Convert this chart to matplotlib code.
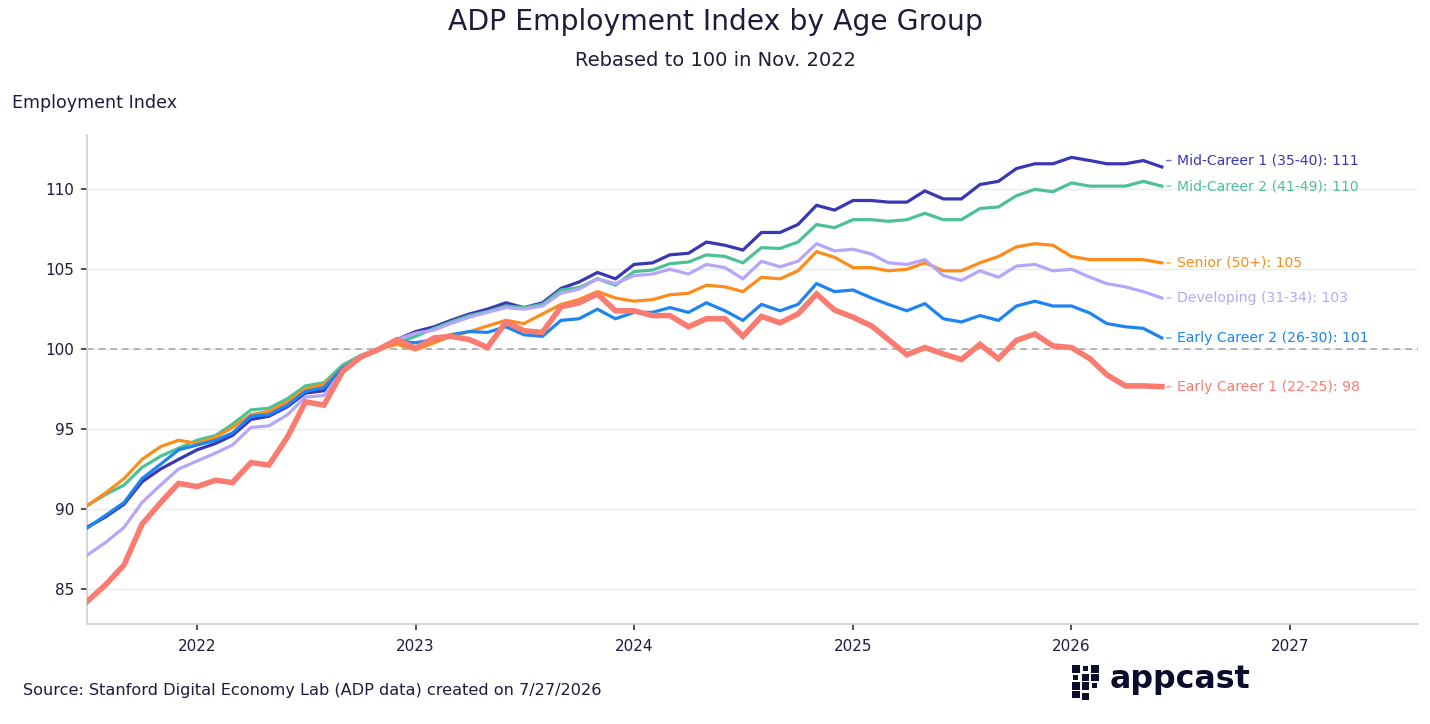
import matplotlib
matplotlib.use("Agg")
import matplotlib.pyplot as plt
import matplotlib.dates as mdates
from matplotlib.patches import Rectangle
import pandas as pd
import numpy as np

# ---------------- data ----------------
start_month = "2021-07-01"
n_months = 60

mid_career_1 = [88.85, 89.5, 90.3, 91.7, 92.5, 93.1,
                93.7, 94.1, 94.6, 95.6, 95.8, 96.4, 97.25, 97.4, 98.7, 99.5, 100.0, 100.6,
                101.1, 101.4, 101.8, 102.2, 102.5, 102.9, 102.6, 102.9, 103.8, 104.2, 104.8, 104.4,
                105.3, 105.4, 105.9, 106.0, 106.7, 106.5, 106.2, 107.3, 107.3, 107.8, 109.0, 108.7,
                109.3, 109.3, 109.2, 109.2, 109.9, 109.4, 109.4, 110.3, 110.5, 111.3, 111.6, 111.6,
                112.0, 111.8, 111.6, 111.6, 111.8, 111.4]
mid_career_2 = [90.2, 90.9, 91.5, 92.6, 93.3, 93.8,
                94.3, 94.6, 95.3, 96.2, 96.3, 96.9, 97.7, 97.9, 99.0, 99.6, 100.0, 100.4,
                100.8, 101.3, 101.7, 102.1, 102.35, 102.7, 102.6, 102.8, 103.7, 103.85, 104.4, 104.0,
                104.85, 104.95, 105.35, 105.45, 105.9, 105.8, 105.4, 106.35, 106.3, 106.7, 107.8, 107.6,
                108.1, 108.1, 108.0, 108.1, 108.5, 108.1, 108.1, 108.8, 108.9, 109.6, 110.0, 109.85,
                110.4, 110.2, 110.2, 110.2, 110.5, 110.2]
senior = [90.2, 91.0, 91.9, 93.1, 93.9, 94.3,
          94.1, 94.5, 95.1, 95.9, 96.1, 96.7, 97.5, 97.8, 98.8, 99.5, 100.0, 100.3,
          99.95, 100.4, 100.8, 101.1, 101.45, 101.8, 101.6, 102.2, 102.8, 103.1, 103.6, 103.2,
          103.0, 103.1, 103.4, 103.5, 104.0, 103.9, 103.6, 104.5, 104.4, 104.9, 106.1, 105.75,
          105.1, 105.1, 104.9, 105.0, 105.4, 104.9, 104.9, 105.4, 105.8, 106.4, 106.6, 106.5,
          105.8, 105.6, 105.6, 105.6, 105.6, 105.4]
developing = [87.1, 87.9, 88.85, 90.4, 91.5, 92.5,
              93.0, 93.5, 94.0, 95.1, 95.2, 95.9, 97.0, 97.1, 98.7, 99.5, 100.0, 100.6,
              101.0, 101.2, 101.6, 102.0, 102.3, 102.6, 102.5, 102.7, 103.5, 103.75, 104.4, 104.1,
              104.6, 104.7, 105.0, 104.7, 105.3, 105.1, 104.4, 105.5, 105.15, 105.5, 106.6, 106.15,
              106.25, 105.95, 105.4, 105.3, 105.6, 104.6, 104.3, 104.9, 104.5, 105.2, 105.3, 104.9,
              105.0, 104.5, 104.1, 103.9, 103.6, 103.2]
early_career_2 = [88.8, 89.6, 90.4, 91.9, 92.8, 93.7,
                  94.0, 94.3, 94.75, 95.8, 95.9, 96.5, 97.35, 97.6, 98.8, 99.5, 100.0, 100.5,
                  100.4, 100.6, 100.9, 101.1, 101.05, 101.4, 100.9, 100.8, 101.8, 101.9, 102.5, 101.9,
                  102.3, 102.3, 102.6, 102.3, 102.9, 102.4, 101.8, 102.8, 102.4, 102.8, 104.1, 103.6,
                  103.7, 103.2, 102.8, 102.4, 102.85, 101.9, 101.7, 102.1, 101.8, 102.7, 103.0, 102.7,
                  102.7, 102.25, 101.6, 101.4, 101.3, 100.7]
early_career_1 = [84.2, 85.25, 86.5, 89.05, 90.4, 91.6,
                  91.4, 91.8, 91.65, 92.9, 92.75, 94.5, 96.7, 96.5, 98.6, 99.5, 100.0, 100.6,
                  100.05, 100.7, 100.8, 100.6, 100.1, 101.7, 101.15, 101.05, 102.65, 102.9, 103.45, 102.4,
                  102.4, 102.1, 102.1, 101.4, 101.9, 101.9, 100.8, 102.05, 101.65, 102.2, 103.45, 102.45,
                  102.0, 101.45, 100.6, 99.65, 100.1, 99.7, 99.35, 100.3, 99.4, 100.55, 100.95, 100.2,
                  100.1, 99.4, 98.4, 97.7, 97.7, 97.65]

series_names = ["Mid-Career 1 (35-40)", "Mid-Career 2 (41-49)", "Senior (50+)",
                "Developing (31-34)", "Early Career 2 (26-30)", "Early Career 1 (22-25)"]
series_values = [mid_career_1, mid_career_2, senior, developing, early_career_2, early_career_1]
series_colors = ["#3a37b5", "#4cc196", "#fd8c1a", "#b6a6fb", "#1d84f2", "#fa7b70"]
series_widths = [2.3, 2.3, 2.3, 2.3, 2.3, 4.0]

y_ticks = [85, 90, 95, 100, 105, 110]
x_tick_years = [2022, 2023, 2024, 2025, 2026, 2027]

dates = pd.date_range(start_month, periods=n_months, freq="MS")

# ---------------- figure ----------------
TEXT = "#1d1d3b"
W, H = 1430, 724
fig = plt.figure(figsize=(W / 100, H / 100), dpi=100)
fig.patch.set_facecolor("white")
ax = fig.add_axes([87 / W, 100 / H, 1331 / W, 489 / H])

for vals, col, lw in zip(series_values, series_colors, series_widths):
    ax.plot(dates, vals, color=col, lw=lw, solid_joinstyle="miter", zorder=3)

ax.axhline(100, color="#a9a9a9", lw=1.2, ls=(0, (4, 3)), zorder=2)

ax.set_ylim(82.8, 113.4)
ax.set_xlim(pd.Timestamp("2021-07-01"), pd.Timestamp("2027-08-03"))
ax.set_yticks(y_ticks)
ax.set_yticklabels([str(t) for t in y_ticks])
ax.set_xticks([pd.Timestamp(f"{y}-01-01") for y in x_tick_years])
ax.set_xticklabels([str(y) for y in x_tick_years])

ax.grid(axis="y", color="#ebebeb", lw=1.0, zorder=0)
ax.grid(axis="x", visible=False)
for s in ["top", "right"]:
    ax.spines[s].set_visible(False)
for s in ["left", "bottom"]:
    ax.spines[s].set_color("#cfcfcf")
    ax.spines[s].set_linewidth(1.2)
ax.tick_params(axis="both", colors="#333333", length=4, width=1.2,
               labelsize=11, labelcolor=TEXT)
ax.tick_params(axis="y", pad=5)
ax.tick_params(axis="x", pad=7)

# end labels with simple de-overlap
end_vals = [v[-1] for v in series_values]
order = np.argsort(end_vals)
label_y = {}
prev = None
min_gap = 1.6
for idx in order:
    y = end_vals[idx]
    if prev is not None and y < prev + min_gap:
        y = prev + min_gap
    label_y[idx] = y
    prev = y

for i, (name, col) in enumerate(zip(series_names, series_colors)):
    ax.annotate(f"{name}: {round(end_vals[i])}",
                xy=(dates[-1], label_y[i]), xycoords="data",
                xytext=(11, 0), textcoords="offset points",
                ha="left", va="center", fontsize=10.1, color=col,
                annotation_clip=False,
                arrowprops=dict(arrowstyle="-", color=col, lw=1.1, alpha=0.7,
                                shrinkA=2.5, shrinkB=3.5))

# titles
fig.text(0.5 * (447 + 983) / W, 1 - 22 / H, "ADP Employment Index by Age Group",
         ha="center", va="center", fontsize=20.3, color=TEXT)
fig.text(0.5 * (574 + 857) / W, 1 - 61 / H, "Rebased to 100 in Nov. 2022",
         ha="center", va="center", fontsize=14, color=TEXT)
fig.text(12 / W, 1 - 103 / H, "Employment Index", ha="left", va="center",
         fontsize=12.6, color=TEXT)
fig.text(23 / W, 1 - 690 / H,
         "Source: Stanford Digital Economy Lab (ADP data) created on 7/27/2026",
         ha="left", va="center", fontsize=11.6, color=TEXT)

# appcast logo
LOGO = "#0c0c2c"
cols_x = [1072, 1081.5, 1091]
rows_y = [665, 673.5, 682, 690.5]
pattern = [[1, 0.7, 1], [0.7, 1, 1], [1, 1, 0.7], [1, 1, 0]]
full = 7.5
for r, row in enumerate(pattern):
    for c, s in enumerate(row):
        if s == 0:
            continue
        size = full * s
        x0 = cols_x[c] + (full - size) / 2
        y0 = rows_y[r] + (full - size) / 2 + (2 if (r == 3 and c == 1) else 0)
        fig.add_artist(Rectangle((x0 / W, 1 - (y0 + size) / H), size / W, size / H,
                                 transform=fig.transFigure, color=LOGO, lw=0))
fig.text(1110 / W, 1 - 688 / H, "appcast", ha="left", va="baseline",
         fontsize=22.8, fontweight="bold", color=LOGO)

fig.savefig("out.png", dpi=100, facecolor="white")
